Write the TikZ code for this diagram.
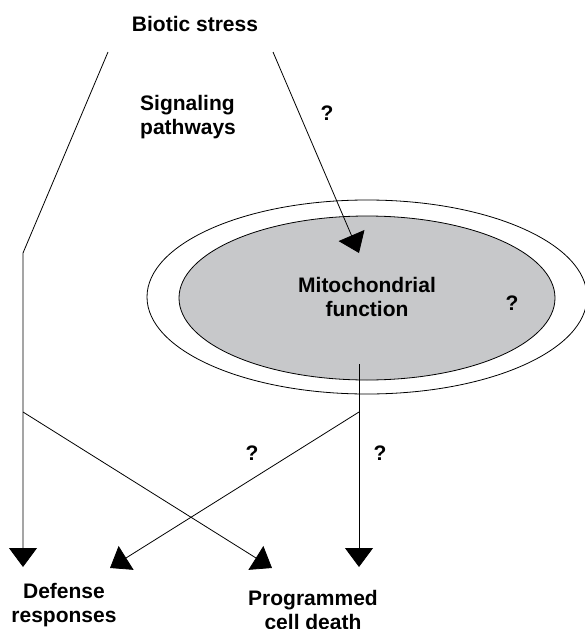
\documentclass[tikz,border=0pt]{standalone}
\usepackage{fontspec}
\setmainfont{Liberation Sans}
\usetikzlibrary{arrows.meta,shapes.geometric}
\definecolor{mitogray}{RGB}{199,200,202}
\tikzstyle{txt}=[font=\bfseries\fontsize{21}{24}\selectfont,align=center,inner sep=0pt]
\tikzstyle{link}=[-{Triangle[width=28pt,length=19pt]},line width=0.8pt]
\tikzstyle{organelle}=[draw,ellipse,line width=0.8pt,inner sep=0pt]

\begin{document}
\begin{tikzpicture}[x=1pt,y=-1pt]
      \useasboundingbox (0,0) rectangle (584,629);

      % mitochondrion
      \node[organelle,minimum width=440pt,minimum height=194pt] (membrane) at (367,297) {};
      \node[organelle,fill=mitogray,minimum width=376pt,minimum height=164pt] (mito) at (367,298) {};

      % texts
      \node[txt] (stress) at (195,24) {Biotic stress};
      \node[txt,anchor=west,align=left] (signal) at (140,117) {Signaling\\pathways};
      \node[txt] (mitotext) at (367,297) {Mitochondrial\\function};
      \node[txt] (defense) at (64,605) {Defense\\responses};
      \node[txt] (pcd) at (313,610) {Programmed\\cell death};
      \node[txt] (q1) at (327,113) {?};
      \node[txt] (q2) at (512,303) {?};
      \node[txt] (q3) at (252,453) {?};
      \node[txt] (q4) at (380,453) {?};

      % path points
      \coordinate (lstart) at (108,52);
      \coordinate (lbend) at (23,253);
      \coordinate (ljoin) at (23,412);
      \coordinate (ltip) at (23,567);
      \coordinate (rstart) at (273,52);
      \coordinate (mitoin) at (359,253);
      \coordinate (mitoout) at (359,364);
      \coordinate (rjoin) at (359,412);
      \coordinate (rtip) at (359,567);
      \coordinate (deftip) at (110,568);
      \coordinate (pcdtip) at (272,568);

      \draw[link] (lstart) -- (lbend) -- (ltip);
      \draw[link] (rstart) -- (mitoin);
      \draw[link] (mitoout) -- (rtip);
      \draw[link] (ljoin) -- (pcdtip);
      \draw[link] (rjoin) -- (deftip);
    \end{tikzpicture}
\end{document}
